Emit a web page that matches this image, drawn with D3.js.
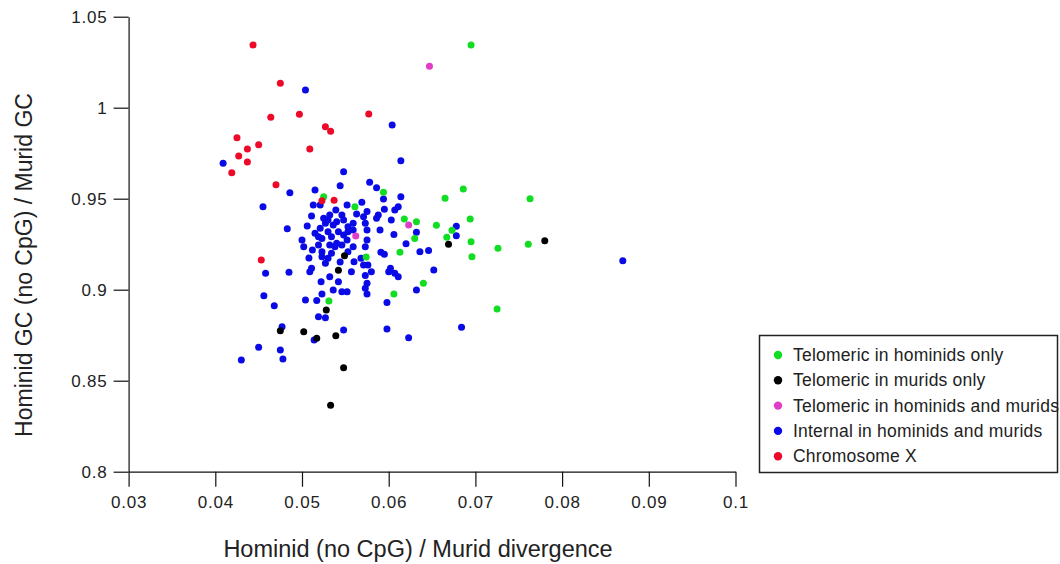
<!DOCTYPE html>
<html>
<head>
<meta charset="utf-8">
<script src="https://cdn.jsdelivr.net/npm/d3@7"></script>
<style>
  html, body { margin: 0; padding: 0; background: #fff; }
  svg { display: block; }
  text { font-family: "Liberation Sans", Arial, sans-serif; fill: #222; }
</style>
</head>
<body>
<svg id="chart" width="1060" height="564"></svg>
<script>
// Tick labels
const xTicks = [0.03, 0.04, 0.05, 0.06, 0.07, 0.08, 0.09, 0.1];
const xTickLabels = ["0.03", "0.04", "0.05", "0.06", "0.07", "0.08", "0.09", "0.1"];
const yTicks = [0.8, 0.85, 0.9, 0.95, 1, 1.05];
const yTickLabels = ["0.8", "0.85", "0.9", "0.95", "1", "1.05"];

// [divergence, GC ratio] per region
const telomericHominids = [
  [0.0695,1.0345],[0.0525,0.9511],[0.0561,0.9456],[0.0594,0.9535],[0.0686,0.9553],
  [0.0665,0.9502],[0.0763,0.9500],[0.0618,0.9389],[0.0632,0.9374],[0.0655,0.9354],
  [0.0673,0.9326],[0.0694,0.9389],[0.0630,0.9282],[0.0667,0.9288],[0.0695,0.9264],
  [0.0726,0.9228],[0.0761,0.9250],[0.0696,0.9181],[0.0613,0.9206],[0.0574,0.9180],
  [0.0640,0.9035],[0.0606,0.8976],[0.0531,0.8938],[0.0725,0.8894]
];
const telomericMurids = [
  [0.0669,0.9250],[0.0780,0.9269],[0.0549,0.9187],[0.0542,0.9107],[0.0528,0.8888],
  [0.0475,0.8775],[0.0502,0.8769],[0.0517,0.8733],[0.0539,0.8747],[0.0548,0.8571],
  [0.0533,0.8365]
];
const telomericBoth = [
  [0.0647,1.0228],[0.0562,0.9295],[0.0623,0.9356]
];
const internalBoth = [
  [0.0504,1.0097],[0.0604,0.9905],[0.0614,0.9709],[0.0409,0.9695],[0.0486,0.9533],
  [0.0515,0.9548],[0.0548,0.9648],[0.0544,0.9571],[0.0569,0.9480],[0.0455,0.9456],
  [0.0483,0.9335],[0.0511,0.9405],[0.0500,0.9273],[0.0502,0.9236],[0.0458,0.9090],
  [0.0485,0.9096],[0.0456,0.8967],[0.0468,0.8912],[0.0477,0.8797],[0.0450,0.8684],
  [0.0475,0.8669],[0.0478,0.8619],[0.0430,0.8614],[0.0504,0.8943],[0.0517,0.8940],
  [0.0523,0.8976],[0.0519,0.8852],[0.0527,0.8846],[0.0514,0.8724],[0.0548,0.8779],
  [0.0546,0.8989],[0.0552,0.8989],[0.0575,0.8976],[0.0598,0.8929],[0.0598,0.8784],
  [0.0623,0.8736],[0.0684,0.8793],[0.0632,0.8998],[0.0870,0.9159],[0.0678,0.9348],
  [0.0678,0.9297],[0.0652,0.9108],[0.0646,0.9216],[0.0636,0.9209],[0.0620,0.9253],
  [0.0578,0.9590],[0.0586,0.9560],[0.0594,0.9498],[0.0614,0.9511],[0.0611,0.9456],
  [0.0607,0.9438],[0.0595,0.9442],[0.0588,0.9410],[0.0586,0.9392],[0.0603,0.9383],
  [0.0606,0.9303],[0.0591,0.9206],[0.0595,0.9195],[0.0602,0.9118],[0.0607,0.9090],
  [0.0600,0.9099],[0.0611,0.9071],[0.0573,0.9236],[0.0575,0.9273],[0.0575,0.9328],
  [0.0573,0.9365],[0.0575,0.9429],[0.0571,0.9401],[0.0573,0.9078],[0.0580,0.9099],
  [0.0575,0.9035],[0.0573,0.9008],[0.0511,0.9118],[0.0509,0.9099],[0.0532,0.9071],
  [0.0522,0.9044],[0.0542,0.9044],[0.0557,0.9099],[0.0560,0.9154],[0.0568,0.9173],
  [0.0521,0.9465],[0.0521,0.9337],[0.0519,0.9291],[0.0523,0.9282],[0.0523,0.9209],
  [0.0523,0.9181],[0.0527,0.9145],[0.0530,0.9173],[0.0534,0.9200],[0.0538,0.9236],
  [0.0540,0.9255],[0.0546,0.9246],[0.0548,0.9301],[0.0542,0.9319],[0.0534,0.9291],
  [0.0530,0.9319],[0.0527,0.9365],[0.0530,0.9383],[0.0536,0.9356],[0.0540,0.9374],
  [0.0546,0.9410],[0.0548,0.9383],[0.0553,0.9346],[0.0559,0.9365],[0.0553,0.9319],
  [0.0559,0.9328],[0.0552,0.9273],[0.0559,0.9236],[0.0553,0.9209],[0.0532,0.9410],
  [0.0525,0.9392],[0.0515,0.9310],[0.0519,0.9246],[0.0532,0.9246],[0.0590,0.9328],
  [0.0632,0.9315],[0.0571,0.9136],[0.0576,0.9136],[0.0506,0.9350],[0.0508,0.9174],
  [0.0513,0.9465],[0.0539,0.9438],[0.0552,0.9465],[0.0563,0.9416],[0.0544,0.9152],
  [0.0536,0.8998],[0.0512,0.9218]
];
const chromosomeX = [
  [0.04435,1.0345],[0.0475,1.0134],[0.0464,0.9947],[0.0497,0.9964],[0.0527,0.9896],
  [0.0533,0.9870],[0.0577,0.9965],[0.0425,0.9835],[0.0437,0.9773],[0.0450,0.9797],
  [0.0427,0.9735],[0.0437,0.9702],[0.0419,0.9643],[0.0470,0.9577],[0.0523,0.9489],
  [0.0537,0.9491],[0.0453,0.9163],[0.0509,0.9773]
];

const seriesNames = [
  "Telomeric in hominids only",
  "Telomeric in murids only",
  "Telomeric in hominids and murids",
  "Internal in hominids and murids",
  "Chromosome X"
];
const seriesColors = ["#11dd22", "#000000", "#e03cc8", "#0a0ae6", "#ec0a28"];
const seriesData = [telomericHominids, telomericMurids, telomericBoth, internalBoth, chromosomeX];
// drawing order: internal regions underneath, the rest on top
const drawOrder = [3, 0, 1, 2, 4];

const svg = d3.select("#chart");

const x = d3.scaleLinear().domain([0.03, 0.1]).range([128.6, 735.5]);
const y = d3.scaleLinear().domain([0.8, 1.05]).range([471.7, 16.7]);

// axes
const xAxis = d3.axisBottom(x)
  .tickValues(xTicks)
  .tickFormat((d, i) => xTickLabels[i])
  .tickSize(15).tickSizeOuter(0).tickPadding(9);
const yAxis = d3.axisLeft(y)
  .tickValues(yTicks)
  .tickFormat((d, i) => yTickLabels[i])
  .tickSize(15).tickSizeOuter(0).tickPadding(6);

const gx = svg.append("g").attr("transform", `translate(0,${y(0.8)})`).call(xAxis);
const gy = svg.append("g").attr("transform", `translate(${x(0.03)},0)`).call(yAxis);
[gx, gy].forEach(g => {
  g.select(".domain").attr("stroke", "#111").attr("stroke-width", 1.2);
  g.selectAll(".tick line").attr("stroke", "#111").attr("stroke-width", 1.2);
  g.selectAll(".tick text")
    .attr("font-family", "'Liberation Sans', Arial, sans-serif")
    .attr("font-size", 17)
    .attr("letter-spacing", "0.8px")
    .attr("fill", "#333");
});

// axis titles
svg.append("text")
  .attr("x", 418).attr("y", 557)
  .attr("text-anchor", "middle")
  .attr("font-size", 23.5)
  .attr("fill", "#333")
  .text("Hominid (no CpG) / Murid divergence");

svg.append("text")
  .attr("transform", "translate(32,265) rotate(-90)")
  .attr("text-anchor", "middle")
  .attr("font-size", 23)
  .attr("fill", "#333")
  .text("Hominid GC (no CpG) / Murid GC");

// points
drawOrder.forEach(si => {
  svg.append("g")
    .selectAll("circle")
    .data(seriesData[si])
    .join("circle")
    .attr("cx", d => x(d[0]))
    .attr("cy", d => y(d[1]))
    .attr("r", 3.5)
    .attr("fill", seriesColors[si]);
});

// legend
const legend = svg.append("g");
legend.append("rect")
  .attr("x", 759.5).attr("y", 335.5)
  .attr("width", 298).attr("height", 137)
  .attr("fill", "#fff")
  .attr("stroke", "#222").attr("stroke-width", 1.5);

const rows = legend.selectAll("g.row")
  .data(seriesNames)
  .join("g")
  .attr("class", "row")
  .attr("transform", (d, i) => `translate(0,${355 + i * 25.3})`);
rows.append("circle")
  .attr("cx", 778).attr("cy", 0).attr("r", 4.2)
  .attr("fill", (d, i) => seriesColors[i]);
rows.append("text")
  .attr("x", 793).attr("y", 6)
  .attr("font-size", 17.5)
  .attr("letter-spacing", "0.2px")
  .attr("fill", "#222")
  .text(d => d);
</script>
</body>
</html>
